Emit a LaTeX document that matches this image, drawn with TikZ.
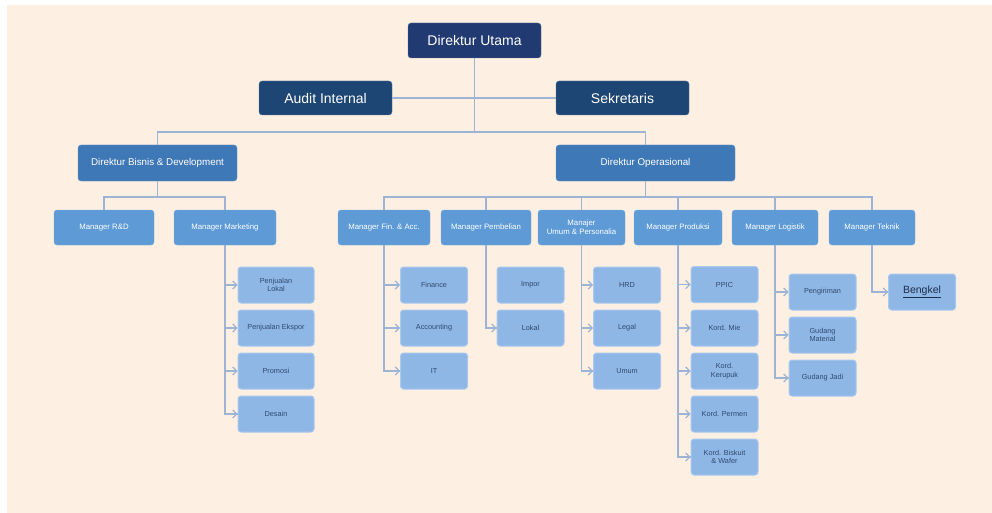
\documentclass[tikz,border=0pt]{standalone}
\usepackage{fontspec}
\setmainfont{Liberation Sans}
\usetikzlibrary{arrows.meta}
\definecolor{paper}{HTML}{FDF0E2}
\definecolor{navy}{HTML}{213A72}
\definecolor{deep}{HTML}{1E4674}
\definecolor{mid}{HTML}{3F78B6}
\definecolor{mgr}{HTML}{5D9AD6}
\definecolor{unit}{HTML}{8FB7E6}
\definecolor{unitline}{HTML}{A9C8EE}
\definecolor{wire}{HTML}{9EB4D4}
\definecolor{unittext}{HTML}{2E4A6E}
\definecolor{darktext}{HTML}{1C2E4E}
\tikzset{
  box/.style={rectangle, rounded corners=3pt, inner sep=0pt, align=center, text=white},
  topbox/.style={box, fill=navy, draw=navy!70, minimum width=133pt, minimum height=35pt,
    font=\fontsize{14}{16}\selectfont},
  staffbox/.style={box, fill=deep, draw=deep!70, minimum width=133pt, minimum height=34pt,
    font=\fontsize{14}{16}\selectfont},
  dirbox/.style={box, fill=mid, draw=mid!80, minimum height=36pt,
    font=\fontsize{9.8}{11}\selectfont},
  mgrbox/.style={box, fill=mgr, draw=mgr!80, minimum height=35pt,
    font=\fontsize{7.8}{8.6}\selectfont},
  unitbox/.style={box, fill=unit, draw=unitline, line width=1pt, minimum width=67pt, minimum height=36pt,
    text=unittext, font=\fontsize{7.3}{8.3}\selectfont},
  wireline/.style={draw=wire, line width=1.2pt},
  feed/.style={wireline, -{Straight Barb[length=4pt,width=8pt,line width=1.2pt]}}
}
\begin{document}
\begin{tikzpicture}[x=1pt,y=-1pt]
% page and paper
\fill[white] (0,0) rectangle (992,513);
\fill[paper] (7,5) rectangle (992,513);
\useasboundingbox (0,0) rectangle (992,513);

% top level
\node[topbox] (du) at (474.5,40.5) {Direktur Utama};
\node[staffbox] (ai) at (325.5,98) {Audit Internal};
\node[staffbox] (sk) at (622.5,98) {Sekretaris};
\node[dirbox, minimum width=159pt] (db) at (157.5,163) {Direktur Bisnis \& Development};
\node[dirbox, minimum width=179pt] (do) at (645.5,163) {Direktur Operasional};

% managers
\node[mgrbox, minimum width=100pt] (mrd) at (104,227.5) {Manager R\&D};
\node[mgrbox, minimum width=102pt] (mmk) at (225,227.5) {Manager Marketing};
\node[mgrbox, minimum width=92pt]  (mfa) at (384,227.5) {Manager Fin. \& Acc.};
\node[mgrbox, minimum width=90pt]  (mpb) at (486,227.5) {Manager Pembelian};
\node[mgrbox, minimum width=87pt]  (mup) at (581.5,227.5) {Manajer\\Umum \& Personalia};
\node[mgrbox, minimum width=88pt]  (mpr) at (678,227.5) {Manager Produksi};
\node[mgrbox, minimum width=86pt]  (mlg) at (775,227.5) {Manager Logistik};
\node[mgrbox, minimum width=86pt]  (mtk) at (872,227.5) {Manager Teknik};

% units under Manager Marketing
\node[unitbox, minimum width=76pt] (u11) at (276,285) {Penjualan\\Lokal};
\node[unitbox, minimum width=76pt] (u12) at (276,328) {Penjualan Ekspor};
\node[unitbox, minimum width=76pt] (u13) at (276,371) {Promosi};
\node[unitbox, minimum width=76pt] (u14) at (276,414) {Desain};
% units under Manager Fin. & Acc.
\node[unitbox] (u21) at (434,285) {Finance};
\node[unitbox] (u22) at (434,328) {Accounting};
\node[unitbox] (u23) at (434,371) {IT};
% units under Manager Pembelian
\node[unitbox] (u31) at (530.5,285) {Impor};
\node[unitbox] (u32) at (530.5,328) {Lokal};
% units under Manajer Umum & Personalia
\node[unitbox] (u41) at (627,285) {HRD};
\node[unitbox] (u42) at (627,328) {Legal};
\node[unitbox] (u43) at (627,371) {Umum};
% units under Manager Produksi
\node[unitbox] (u51) at (724.5,284.5) {PPIC};
\node[unitbox] (u52) at (724.5,328) {Kord. Mie};
\node[unitbox] (u53) at (724.5,371) {Kord.\\Kerupuk};
\node[unitbox] (u54) at (724.5,414) {Kord. Permen};
\node[unitbox] (u55) at (724.5,457) {Kord. Biskuit\\\& Wafer};
% units under Manager Logistik
\node[unitbox] (u61) at (822.5,292) {Pengiriman};
\node[unitbox] (u62) at (822.5,335) {Gudang\\Material};
\node[unitbox] (u63) at (822.5,378) {Gudang Jadi};
% unit under Manager Teknik
\node[unitbox, text=darktext, font=\fontsize{10.5}{12}\selectfont] (u71) at (922,292) {\underline{Bengkel}};

% bus coordinates
\coordinate (busA) at (474.5,132);
\coordinate (busB) at (157.5,197);
\coordinate (busC) at (645.5,197);

% top connectors
\draw[wireline] (du.south) -- (busA);
\draw[wireline] (ai.east) -- (sk.west);
\draw[wireline] (db.north) |- (busA) -| (do.north);
\draw[wireline] (db.south) -- (busB);
\draw[wireline] (mrd.north) |- (busB) -| (mmk.north);
\draw[wireline] (do.south) -- (busC);
\draw[wireline] (mfa.north) |- (busC) -| (mtk.north);
\foreach \m in {mpb,mup,mpr,mlg} \draw[wireline] (busC) -| (\m.north);

% unit feeders
\draw[wireline] (mmk.south) |- (u14.west);
\foreach \u in {u11,u12,u13,u14} \draw[feed] (mmk.south |- \u.west) -- (\u.west);
\draw[wireline] (mfa.south) |- (u23.west);
\foreach \u in {u21,u22,u23} \draw[feed] (mfa.south |- \u.west) -- (\u.west);
\draw[wireline] (mpb.south) |- (u32.west);
\draw[feed] (mpb.south |- u32.west) -- (u32.west);
\draw[wireline] (mup.south) |- (u43.west);
\foreach \u in {u41,u42,u43} \draw[feed] (mup.south |- \u.west) -- (\u.west);
\draw[wireline] (mpr.south) |- (u55.west);
\foreach \u in {u51,u52,u53,u54,u55} \draw[feed] (mpr.south |- \u.west) -- (\u.west);
\draw[wireline] (mlg.south) |- (u63.west);
\foreach \u in {u61,u62,u63} \draw[feed] (mlg.south |- \u.west) -- (\u.west);
\draw[wireline] (mtk.south) |- (u71.west);
\draw[feed] (mtk.south |- u71.west) -- (u71.west);
\end{tikzpicture}
\end{document}
